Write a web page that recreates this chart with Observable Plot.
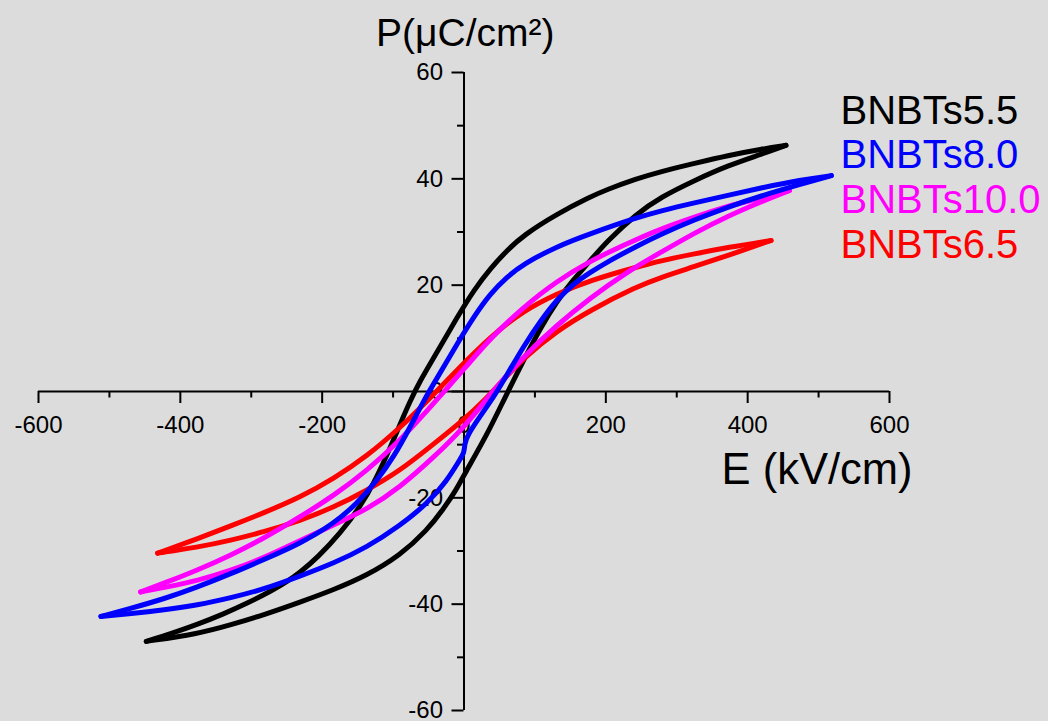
<!DOCTYPE html>
<html><head><meta charset="utf-8">
<script src="https://cdn.jsdelivr.net/npm/d3@7"></script>
<script src="https://cdn.jsdelivr.net/npm/@observablehq/plot@0.6"></script>
<style>
html,body{margin:0;padding:0;background:#dcdcdc;}
</style></head><body><div id="chart"></div>
<script>
// ---- data ----
const seriesNames = ["BNBTs5.5", "BNBTs8.0", "BNBTs10.0", "BNBTs6.5"];
const seriesColors = ["#000000", "#0000ff", "#ff00ff", "#ff0000"];

// [E (kV/cm), P (uC/cm2)] ; upper = descending-field branch, lower = ascending-field branch
const bnbts55Upper = [[454,46.3],[420,45.6],[372,44.4],[325,42.9],[278,41.4],[243,40.0],[200,37.9],[178,36.6],[131,33.4],[84,29.4],[61,26.6],[37,23.1],[14,19.1],[-9,14.1],[-42,6.5],[-62,2.0],[-76,-1.8],[-90,-6.1],[-108,-11.8],[-127,-17.2],[-146,-21.6],[-174,-26.6],[-207,-31.3],[-231,-34.0],[-250,-35.8],[-270,-37.4],[-305,-39.8],[-340,-41.9],[-376,-43.8],[-410,-45.4],[-448,-47.0]];
const bnbts55Lower = [[-448,-47.0],[-376,-45.6],[-329,-43.9],[-280,-41.9],[-231,-39.6],[-184,-37.3],[-137,-34.6],[-90,-30.8],[-52,-26.1],[-29,-22.1],[-10,-18.3],[0,-15.7],[33,-8.0],[56,-1.6],[84,5.9],[108,12.0],[131,17.0],[154,21.0],[178,24.6],[201,28.2],[243,33.4],[278,36.6],[325,39.7],[372,42.5],[419,44.6],[454,46.3]];

const bnbts80Upper = [[518,40.6],[475,39.8],[419,38.3],[372,36.9],[325,35.5],[278,34.0],[243,32.7],[178,29.7],[131,27.3],[84,24.0],[61,21.6],[37,18.4],[14,14.1],[-9,9.1],[-28,4.8],[-43,1.4],[-57,-1.8],[-76,-6.7],[-99,-12.3],[-123,-16.8],[-151,-21.1],[-184,-24.9],[-231,-28.6],[-282,-31.6],[-329,-34.3],[-376,-36.8],[-423,-39.0],[-470,-40.8],[-512,-42.3]];
const bnbts80Lower = [[-512,-42.3],[-470,-41.8],[-423,-41.1],[-376,-40.2],[-329,-38.8],[-282,-37.2],[-231,-34.7],[-184,-32.3],[-137,-29.3],[-90,-25.2],[-52,-21.1],[-24,-16.8],[-5,-12.6],[0,-11.6],[1,-9.9],[4,-8.4],[24,-4.4],[42,-1.0],[61,3.2],[84,8.5],[108,13.3],[131,17.3],[154,20.2],[178,22.4],[201,24.3],[243,27.3],[278,29.6],[325,32.3],[372,34.7],[419,36.8],[475,39.0],[518,40.6]];

const bnbts100Upper = [[459,37.8],[419,36.4],[372,34.9],[325,32.8],[278,30.6],[243,28.6],[210,26.6],[178,24.5],[131,20.8],[84,15.9],[37,10.0],[0,4.2],[-24,0.6],[-52,-3.6],[-90,-9.2],[-137,-14.9],[-184,-19.6],[-231,-23.6],[-282,-27.6],[-329,-30.8],[-376,-33.6],[-420,-35.9],[-456,-37.7]];
const bnbts100Lower = [[-456,-37.7],[-420,-36.8],[-376,-35.6],[-329,-33.7],[-282,-31.3],[-231,-28.0],[-184,-25.1],[-137,-22.2],[-90,-18.0],[-43,-12.4],[-2,-7.1],[37,-0.5],[84,6.6],[131,12.5],[178,17.6],[231,22.6],[278,26.2],[325,29.8],[372,33.0],[419,35.7],[459,37.8]];

const bnbts65Upper = [[433,28.4],[372,27.1],[325,25.9],[278,24.6],[243,23.4],[178,20.9],[131,18.4],[84,15.2],[37,10.3],[-9,4.1],[-29,1.4],[-52,-1.8],[-90,-6.8],[-137,-12.2],[-184,-16.4],[-231,-19.9],[-282,-22.8],[-329,-25.3],[-376,-27.7],[-432,-30.4]];
const bnbts65Lower = [[-432,-30.4],[-376,-29.3],[-329,-28.0],[-282,-26.4],[-231,-24.3],[-184,-21.8],[-137,-18.6],[-90,-14.9],[-43,-9.9],[-2,-5.5],[28,-1.8],[56,2.3],[84,6.3],[131,11.4],[178,15.3],[243,19.7],[278,21.5],[325,23.5],[372,25.6],[433,28.4]];

const xDomain = [-600, 600];
const yDomain = [-60, 60];
const xMajorTicks = [-600, -400, -200, 0, 200, 400, 600];
const xMinorTicks = [-500, -300, -100, 100, 300, 500];
const xTickLabels = ["-600", "-400", "-200", "0", "200", "400", "600"];
const yMajorTicks = [-60, -40, -20, 0, 20, 40, 60];
const yMinorTicks = [-50, -30, -10, 10, 30, 50];
const yTickLabels = ["-60", "-40", "-20", "0", "20", "40", "60"];
const xTitle = "E (kV/cm)";
const yTitle = "P(\u03bcC/cm\u00b2)";

// ---- layout ----
const W = 1048, H = 721;
const mL = 38, mR = 159, mT = 72, mB = 11;
const pxPerX = (W - mL - mR) / (xDomain[1] - xDomain[0]);
const pxPerY = (H - mT - mB) / (yDomain[1] - yDomain[0]);
const majorLen = 12, minorLen = 6.5;
const font = "'Liberation Sans', Arial, Helvetica, sans-serif";

const loops = [
  {name: seriesNames[0], color: seriesColors[0], up: bnbts55Upper, lo: bnbts55Lower},
  {name: seriesNames[1], color: seriesColors[1], up: bnbts80Upper, lo: bnbts80Lower},
  {name: seriesNames[2], color: seriesColors[2], up: bnbts100Upper, lo: bnbts100Lower},
  {name: seriesNames[3], color: seriesColors[3], up: bnbts65Upper, lo: bnbts65Lower}
];
const drawOrder = [0, 3, 2, 1];

const branchRows = (pts, branch) => pts.map(([E, P]) => ({E, P, branch})).sort((a, b) => a.E - b.E);

const marks = [];
// axis lines
marks.push(Plot.ruleY([0], {x1: xDomain[0], x2: xDomain[1], stroke: "#000", strokeWidth: 2}));
marks.push(Plot.ruleX([0], {y1: yDomain[0], y2: yDomain[1], stroke: "#000", strokeWidth: 2}));
// x ticks (downward)
marks.push(Plot.ruleX(xMajorTicks, {x: d => d, y1: 0, y2: -majorLen / pxPerY, stroke: "#000", strokeWidth: 2}));
marks.push(Plot.ruleX(xMinorTicks, {x: d => d, y1: 0, y2: -minorLen / pxPerY, stroke: "#000", strokeWidth: 2}));
// y ticks (leftward)
marks.push(Plot.ruleY(yMajorTicks, {y: d => d, x1: 0, x2: -majorLen / pxPerX, stroke: "#000", strokeWidth: 2}));
marks.push(Plot.ruleY(yMinorTicks, {y: d => d, x1: 0, x2: -minorLen / pxPerX, stroke: "#000", strokeWidth: 2}));
// tick labels
marks.push(Plot.text(xMajorTicks, {x: d => d, y: 0, text: (d, i) => xTickLabels[i], dy: 34, fontSize: 24, fill: "#000"}));
marks.push(Plot.text(yMajorTicks, {x: 0, y: d => d, text: (d, i) => yTickLabels[i], dx: -21, textAnchor: "end", fontSize: 24, fill: "#000"}));
// loops: each branch drawn as its own smooth line
for (const k of drawOrder) {
  const l = loops[k];
  const rows = [...branchRows(l.up, "up"), ...branchRows(l.lo, "lo")];
  marks.push(Plot.line(rows, {x: "E", y: "P", z: "branch", stroke: l.color, strokeWidth: 5, curve: "basis", strokeLinejoin: "round", strokeLinecap: "round"}));
}
// axis titles
marks.push(Plot.text([xTitle], {frameAnchor: "right", text: d => d, textAnchor: "end", lineAnchor: "bottom", dx: 23, dy: 92, fontSize: 43.5, fill: "#000"}));
marks.push(Plot.text([yTitle], {frameAnchor: "top", text: d => d, textAnchor: "start", lineAnchor: "bottom", dx: -88, dy: -27, fontSize: 39, fill: "#000"}));
// legend
seriesNames.forEach((name, i) => {
  marks.push(Plot.text([name], {frameAnchor: "top-right", text: d => d, textAnchor: "start", lineAnchor: "bottom", dx: -49, dy: 51 + i * 44.7, fontSize: 40, fill: seriesColors[i]}));
});

const chart = Plot.plot({
  width: W, height: H,
  marginLeft: mL, marginRight: mR, marginTop: mT, marginBottom: mB,
  x: {domain: xDomain, axis: null},
  y: {domain: yDomain, axis: null},
  style: {background: "#dcdcdc", fontFamily: font, overflow: "visible"},
  marks
});
document.getElementById("chart").appendChild(chart);
</script></body></html>
